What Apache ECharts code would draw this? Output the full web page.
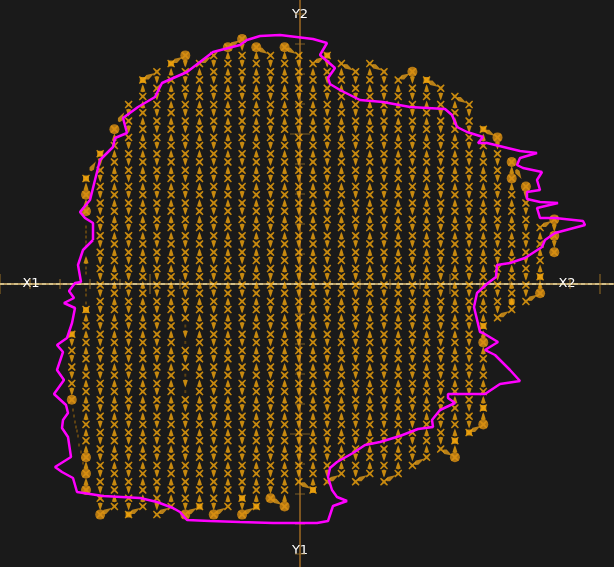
<!DOCTYPE html>
<html><head><meta charset="utf-8">
<style>html,body{margin:0;padding:0;background:#1a1a1a}#c{width:614px;height:567px}</style>
<script src="https://cdn.jsdelivr.net/npm/echarts@6/dist/echarts.min.js"></script>
</head><body><div id="c"></div>
<script>
// Scan columns (x), with first and last row (y) of each column
const columnX = [-228.2,-214,-199.8,-185.6,-171.4,-157.2,-143.1,-128.9,-114.7,-100.5,-86.3,-72.1,-57.9,-43.7,-29.5,-15.4,-1.2,13,27.2,41.4,55.6,69.8,84,98.2,112.4,126.6,140.7,154.9,169.1,183.3,197.5,211.7,225.9,240.1,254.3];
const columnTop = [-50.2,105.6,130.2,154.8,179.4,204,212.2,220.4,228.6,220.4,228.6,236.8,245,236.8,228.6,236.8,228.6,220.4,228.6,220.4,212.2,220.4,212.2,204,212.2,204,195.8,187.6,179.4,154.8,146.6,122,97.4,56.4,64.6];
const columnBottom = [-115.8,-206,-230.6,-222.4,-230.6,-222.4,-230.6,-222.4,-230.6,-222.4,-230.6,-222.4,-230.6,-222.4,-214.2,-222.4,-197.8,-206,-197.8,-189.6,-197.8,-189.6,-197.8,-189.6,-181.4,-173.2,-165,-173.2,-148.6,-140.4,-33.8,-25.6,-17.4,-9.2,31.8];
const rowPitch = 16.4;
// Stretches of a column where the regular marks are missing
const emptySpans = [[-214,72,-20]];
const hiddenCrosses = [[-114.7,-50.2],[-114.7,-99.4]];
const hiddenArrows = [[-114.7,-42],[-114.7,-58.4],[-114.7,-91.2],[-114.7,-107.6]];
const extraArrows = [[-114.7,-50.2,'d'],[-114.7,-99.4,'d'],[-214,24,'u']];
const bigDots = [[-228.2,-115.8],[-214,89.2],[-214,72.8],[-214,-173.2],[-214,-189.6],[-214,-206],[-199.8,-230.6],[-185.6,154.8],[-114.7,228.6],[-114.7,-230.6],[-86.3,-230.6],[-72.1,236.8],[-57.9,245],[-57.9,-230.6],[-43.7,236.8],[-29.5,-214.2],[-15.4,236.8],[-15.4,-222.4],[112.4,212.2],[154.9,-173.2],[183.3,-58.4],[183.3,-140.4],[197.5,146.6],[211.7,122],[211.7,105.6],[225.9,97.4],[240.1,-9.2],[254.3,64.6],[254.3,48.2],[254.3,31.8]];
const smallSquares = [[-214,105.6],[-199.8,130.2],[-157.2,204],[-128.9,220.4],[27.2,228.6],[126.6,204],[183.3,154.8],[-100.5,-222.4],[-43.7,-222.4],[13,-206],[211.7,-17.4],[169.1,-148.6],[-171.4,-230.6],[154.9,-156.8],[183.3,-42],[183.3,-124],[240.1,7.2],[-57.9,-214.2],[-228.2,-50.2],[-214,-26]];
const faintDots = [[-214,57],[-214,52],[-214,47],[-214,42],[-214,38],[-214,16],[-214,11],[-214,-6],[-214,-11],[-214,-19],[-227,-126],[-226,-132],[-225,-138],[-224,-143],[-223,-147],[-222,-152],[-221,-161],[-219,-168],[-218,-174],[-217,-179],[-114.7,-42],[-114.7,-58.4],[-114.7,-91.2],[-114.7,-107.6]];
// Magenta outline
const outline = [[-207,44],[-217,34],[-222,19],[-219,2],[-225,1],[-231,-7],[-226,-14],[-236,-19],[-225,-24],[-228,-39],[-233,-54],[-243,-61],[-237,-68],[-243,-86],[-236,-96],[-246,-110],[-234,-121],[-232,-129],[-237,-136],[-238,-144],[-232,-153],[-229,-173],[-245,-183],[-238,-188],[-227,-194],[-223,-208],[-197,-212],[-160,-214],[-143,-218],[-127,-224],[-120,-228],[-113,-236],[-90,-237],[-60,-238],[-27,-239],[17,-239],[28,-237],[33,-222],[47,-217],[37,-213],[32,-206],[28,-193],[30,-184],[37,-178],[53,-169],[65,-161],[80,-158],[100,-152],[118,-145],[133,-143],[132,-136],[140,-126],[155,-119],[148,-114],[148,-110],[185,-110],[200,-100],[220,-97],[210,-86],[195,-71],[185,-66],[198,-58],[183,-49],[180,-48],[174,-23],[177,-9],[188,1],[196,7],[197,19],[210,21],[225,26],[242,37],[245,44],[255,51],[270,55],[285,59],[283,63],[255,66],[240,66],[237,76],[258,81],[240,82],[227,85],[227,92],[240,94],[237,104],[242,112],[223,116],[217,119],[220,126],[237,131],[220,133],[187,141],[178,141],[183,147],[167,152],[157,157],[152,169],[145,175],[110,177],[83,182],[60,184],[40,194],[30,200],[28,206],[35,216],[20,229],[27,241],[13,245],[-20,249],[-40,248],[-53,244],[-60,239],[-87,232],[-113,212],[-138,201],[-145,187],[-162,177],[-177,166],[-173,151],[-185,146],[-187,137],[-200,124],[-210,84],[-220,72],[-215,66],[-207,61],[-207,44]];
// Axes
const xMinorTicks = [-270,-240,-210,-180,-120,-90,-60,-30,30,60,90,120,180,210,240,270];
const xMajorTicks = [-300,-150,150,300];
const yMinorTicks = [-270,-240,-210,-180,-120,-90,-60,-30,30,60,90,120,180,210,240,270];
const yMajorTicks = [-150,150];
const xLabelValues = [-269,267], xLabelTexts = ['X1','X2'];
const yLabelValues = [-267,269], yLabelTexts = ['Y1','Y2'];

const ORANGE = '#f2a50c';
const CROSS = 'path://M1.2,0 L5,3.2 L8.8,0 L10,1.2 L6.8,5 L10,8.8 L8.8,10 L5,6.8 L1.2,10 L0,8.8 L3.2,5 L0,1.2 Z';
const ARROW_UP = 'path://M5,0 L7,3 L10,9 L5,10 L0,9 L3,3 Z';
const ARROW_DOWN = 'path://M0,1 L5,0 L10,1 L7,7 L5,10 L3,7 Z';
const WEDGE = 'path://M0,3 L3,0 L10,4 L12,5 L10,6 L3,10 L0,7 Z';
const near = (list, x, y) => list.some(p => Math.abs(p[0]-x) < .01 && Math.abs(p[1]-y) < .01);
const inGap = (x, y) => emptySpans.some(s => s[0] === x && y < s[1] && y > s[2]);

const crosses = [], arrowsUp = [], arrowsDown = [], wedges = [];
columnX.forEach((x, c) => {
  const top = columnTop[c], bot = columnBottom[c];
  const up = c % 2 === 1; // columns are scanned alternately upward and downward
  for (let y = top; y >= bot - .01; y -= rowPitch) {
    const r = Math.round(y * 10) / 10;
    if (!inGap(x, r) && !near(hiddenCrosses, x, r)) crosses.push([x, r]);
    if (y - rowPitch >= bot - .01) {
      const m = Math.round((y - rowPitch / 2) * 10) / 10;
      if (!inGap(x, m) && !near(hiddenArrows, x, m)) (up ? arrowsUp : arrowsDown).push([x, m]);
    }
  }
  if (c > 0 && c + 1 < columnX.length) {
    const from = up ? [x, top] : [x, bot];
    const to = up ? [columnX[c+1], columnTop[c+1]] : [columnX[c+1], columnBottom[c+1]];
    const ang = Math.atan2(to[1]-from[1], to[0]-from[0]) * 180 / Math.PI;
    wedges.push({value: [(from[0]+to[0])/2, (from[1]+to[1])/2], symbolRotate: ang});
  }
});
extraArrows.forEach(a => (a[2] === 'u' ? arrowsUp : arrowsDown).push([a[0], a[1]]));

const pts = (name, data, symbol, size, color, z) => ({name, type:'scatter', data, symbol, symbolSize:size, itemStyle:{color}, z, silent:true, animation:false});
const chart = echarts.init(document.getElementById('c'), null, {renderer:'canvas'});
chart.setOption({
  animation:false, backgroundColor:'#1a1a1a',
  grid:{left:0,right:0,top:0,bottom:0,containLabel:false,outerBoundsMode:'none'},
  xAxis:{type:'value',min:-300,max:314,z:1,splitLine:{show:false},axisTick:{show:false},
    axisLine:{onZero:true,lineStyle:{color:'#b59a62',width:2}},
    axisLabel:{customValues:xLabelValues,formatter:v=>xLabelTexts[xLabelValues.indexOf(v)],color:'#fff',fontFamily:'DejaVu Sans',fontSize:13,margin:-283,verticalAlign:'middle',align:'center',hideOverlap:false}},
  yAxis:{type:'value',min:-283,max:284,z:1,splitLine:{show:false},axisTick:{show:false},
    axisLine:{onZero:true,lineStyle:{color:'#7d5520',width:2}},
    axisLabel:{customValues:yLabelValues,formatter:v=>yLabelTexts[yLabelValues.indexOf(v)],color:'#fff',fontFamily:'DejaVu Sans',fontSize:13,margin:-300,verticalAlign:'middle',align:'center',hideOverlap:false}},
  series:[
    pts('xMinor',xMinorTicks.map(v=>[v,0]),'rect',[1,10],'#b98528',3),
    pts('xMajor',xMajorTicks.map(v=>[v,0]),'rect',[1,20],'#b98528',3),
    pts('yMinor',yMinorTicks.map(v=>[0,v]),'rect',[10,1],'#9a7128',3),
    pts('yMajor',yMajorTicks.map(v=>[0,v]),'rect',[20,1],'#9a7128',3),
    pts('faint',faintDots,'rect',[2,3],'#6e4c10',4),
    pts('cross',crosses,CROSS,8,ORANGE,5),
    pts('arrowUp',arrowsUp,ARROW_UP,[5,8],ORANGE,5),
    pts('arrowDown',arrowsDown,ARROW_DOWN,[5,8],ORANGE,5),
    pts('wedge',wedges,WEDGE,[11,5],'#e09a18',5),
    pts('square',smallSquares,'roundRect',6,ORANGE,6),
    pts('dot',bigDots,'circle',10,'#d98f12',6),
    {name:'xDash',type:'line',data:[[-300,0],[314,0]],symbol:'none',z:7,silent:true,lineStyle:{color:'#efe3b0',width:1,type:[4,3]}},
    {name:'outline',type:'line',data:outline,symbol:'none',z:8,silent:true,lineStyle:{color:'#ff00ff',width:2.5}}
  ]
});
</script></body></html>
